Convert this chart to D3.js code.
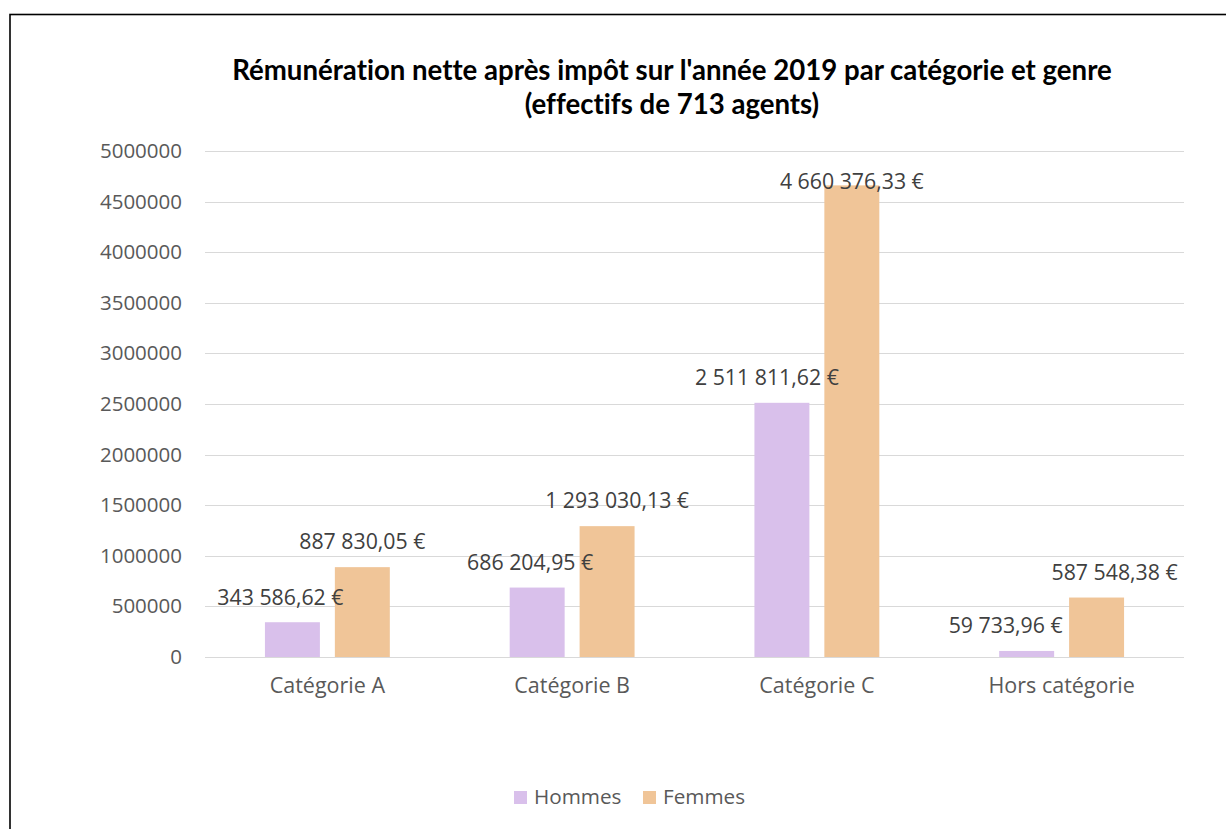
<!DOCTYPE html>
<html><head><meta charset="utf-8">
<script src="https://cdn.jsdelivr.net/npm/d3@7"></script>
<style>body{margin:0;background:#fff}svg{display:block}text{font-variant-ligatures:none;font-feature-settings:"liga" 0}</style>
</head><body>
<svg id="c" width="1226" height="829"></svg>
<script>
const categories = ["Catégorie A", "Catégorie B", "Catégorie C", "Hors catégorie"];
const series = ["Hommes", "Femmes"];
const hommes = [343586.62, 686204.95, 2511811.62, 59733.96];
const femmes = [887830.05, 1293030.13, 4660376.33, 587548.38];
const yTicks = [0, 500000, 1000000, 1500000, 2000000, 2500000, 3000000, 3500000, 4000000, 4500000, 5000000];
const colors = ["#D9C0EB", "#F0C598"];
const titleLines = ["Rémunération nette après impôt sur l'année 2019 par catégorie et genre", "(effectifs de 713 agents)"];
// manual label offsets (as in the source chart)
const labelDx = [[-12, -7, -15, -21], [0, 10, 0, 18]];
const labelDy = [[-25, -25, -25, -25], [-26, -26, -4, -25]];

const values = [hommes, femmes];
const svg = d3.select("#c");
const pLeft = 205, pRight = 1184, pTop = 151, pBottom = 657;

svg.append("rect").attr("x", 10).attr("y", 14.5).attr("width", 1300).attr("height", 900)
  .attr("fill", "#fff").attr("stroke", "#000").attr("stroke-width", 1.6);

const y = d3.scaleLinear().domain([0, 5000000]).range([pBottom, pTop]);
const x = d3.scaleBand().domain(categories).range([pLeft, pRight]);
const xs = d3.scaleBand().domain(series).range([0, x.bandwidth()]).paddingInner(0.214).paddingOuter(0.857);

// gridlines
svg.append("g").selectAll("line").data(yTicks).join("line")
  .attr("x1", pLeft).attr("x2", pRight).attr("y1", d => Math.round(y(d)) + 0.5).attr("y2", d => Math.round(y(d)) + 0.5)
  .attr("stroke", "#D9D9D9").attr("stroke-width", 1);

// y axis labels
const yAxis = d3.axisLeft(y).tickValues(yTicks).tickFormat(d => String(d)).tickSize(0).tickPadding(0);
const ya = svg.append("g").attr("transform", `translate(182,0)`).call(yAxis);
ya.select(".domain").remove();
ya.selectAll("text").attr("font-family", "Open Sans").attr("font-size", 20.5).attr("fill", "#595959");

// x axis labels
const xAxis = d3.axisBottom(x).tickSize(0).tickPadding(0);
const xa = svg.append("g").attr("transform", `translate(0,678)`).call(xAxis);
xa.select(".domain").remove();
xa.selectAll("text").attr("font-family", "Open Sans").attr("font-size", 21.5).attr("fill", "#595959");

// bars
const fmt = v => {
  const [i, d] = v.toFixed(2).split(".");
  return i.replace(/\B(?=(\d{3})+(?!\d))/g, " ") + "," + d + " €";
};
series.forEach((s, si) => {
  const g = svg.append("g");
  g.selectAll("rect").data(values[si]).join("rect")
    .attr("x", (d, i) => x(categories[i]) + xs(s))
    .attr("width", xs.bandwidth())
    .attr("y", d => y(d))
    .attr("height", d => pBottom - y(d))
    .attr("fill", colors[si]);
});
series.forEach((s, si) => {
  svg.append("g").selectAll("text").data(values[si]).join("text")
    .attr("x", (d, i) => x(categories[i]) + xs(s) + xs.bandwidth() / 2 + labelDx[si][i])
    .attr("y", (d, i) => y(d) + labelDy[si][i])
    .attr("dy", "0.35em")
    .attr("text-anchor", "middle")
    .attr("font-family", "Open Sans").attr("font-size", 21.3).attr("fill", "#404040")
    .text(d => fmt(d));
});

// title
svg.append("g").selectAll("text").data(titleLines).join("text")
  .attr("x", 672).attr("y", (d, i) => 80 + i * 34)
  .attr("text-anchor", "middle")
  .attr("font-family", "Lato").attr("font-weight", "bold").attr("font-size", 27.6).attr("fill", "#000")
  .text(d => d);

// legend
const lg = svg.append("g");
const lx = [514, 643];
series.forEach((s, si) => {
  lg.append("rect").attr("x", lx[si]).attr("y", 791).attr("width", 13).attr("height", 13).attr("fill", colors[si]);
  lg.append("text").attr("x", lx[si] + 20).attr("y", 797).attr("dy", "0.35em")
    .attr("font-family", "Open Sans").attr("font-size", 20.7).attr("fill", "#595959").text(s);
});
</script>
</body></html>
